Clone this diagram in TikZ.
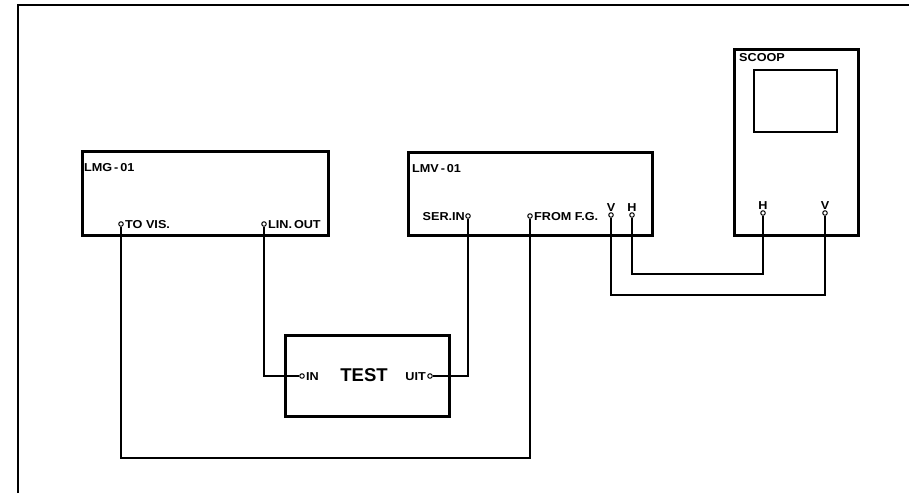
\documentclass[tikz,border=0pt]{standalone}
\usepackage{fontspec}
\newfontfamily\lblfont[FakeStretch=1.1]{Liberation Sans Bold}
\newfontfamily\bigfont{Liberation Sans Bold}
\begin{document}
\begin{tikzpicture}[x=1pt,y=-1pt,
  box/.style={draw,line width=2.6pt,inner sep=0,anchor=north west},
  term/.style={draw,circle,line width=1pt,inner sep=0,minimum size=4.5pt,fill=white},
  wire/.style={line width=1.2pt},
  lbl/.style={inner sep=0,font=\lblfont\fontsize{11.5}{12}\selectfont},
  big/.style={inner sep=0,font=\bigfont\fontsize{18.5}{22}\selectfont}]
\useasboundingbox (0,0) rectangle (909,493);
% frame
\draw[line width=2.6pt] (18,493) -- (18,5) -- (909,5);
% boxes
\node[box,minimum width=246pt,minimum height=84pt] (lmg) at (81,150) {};
\node[box,minimum width=244pt,minimum height=83pt] (lmv) at (407,151) {};
\node[box,minimum width=124pt,minimum height=186pt] (scoop) at (733,48) {};
\node[box,line width=2pt,minimum width=83pt,minimum height=62pt] (screen) at (753,69) {};
\node[box,minimum width=164pt,minimum height=81pt] (test) at (284,334) {};
% titles
\node[lbl,anchor=west] (tlmg) at (84,168) {LMG{\,}-{\,}01};
\node[lbl,anchor=west] (tlmv) at (412,169) {LMV{\,}-{\,}01};
\node[lbl,anchor=west] (tsc) at (739,58) {SCOOP};
\node[big] (ttest) at (364,375) {TEST};
% terminals
\node[term] (tovis) at (121,224) {};
\node[term] (linout) at (264,224) {};
\node[term] (serin) at (468,216) {};
\node[term] (fromfg) at (530,216) {};
\node[term] (lmvV) at (611,215) {};
\node[term] (lmvH) at (632,215) {};
\node[term] (scH) at (763,213) {};
\node[term] (scV) at (825,213) {};
\node[term] (tin) at (302,376) {};
\node[term] (tuit) at (430,376) {};
% terminal labels
\node[lbl,anchor=west] at (125,225) {TO VIS.};
\node[lbl,anchor=west] at (268,225) {LIN.\,OUT};
\node[lbl,anchor=east] at (465,217) {SER.IN};
\node[lbl,anchor=west] at (534,217) {FROM F.G.};
\node[lbl,anchor=base] at (611,211) {V};
\node[lbl,anchor=base] at (632,211) {H};
\node[lbl,anchor=base] at (763,209) {H};
\node[lbl,anchor=base] at (825,209) {V};
\node[lbl,anchor=west] at (306,377) {IN};
\node[lbl,anchor=east] at (426,377) {UIT};
% corner coordinates
\coordinate (botw) at (300,458);
\coordinate (vw) at (700,295);
\coordinate (hw) at (700,274);
% wires
\draw[wire] (tovis.south) |- (botw) -| (fromfg.south);
\draw[wire] (linout.south) |- (tin.west);
\draw[wire] (tuit.east) -| (serin.south);
\draw[wire] (lmvV.south) |- (vw) -| (scV.south);
\draw[wire] (lmvH.south) |- (hw) -| (scH.south);
\end{tikzpicture}
\end{document}
